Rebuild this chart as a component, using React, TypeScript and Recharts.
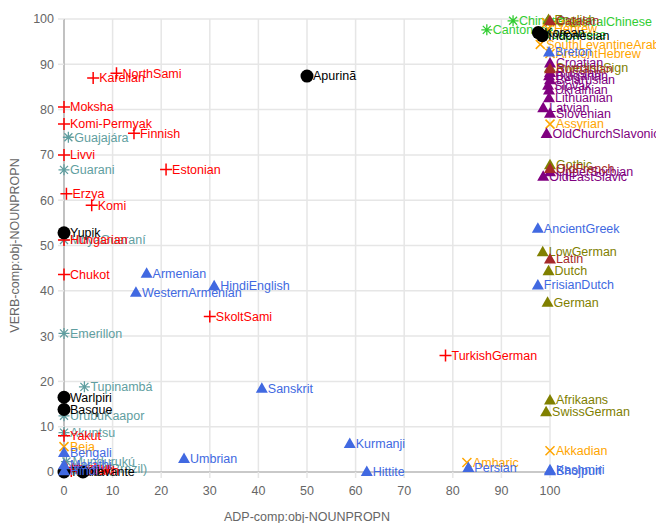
import React from 'react';
import { ScatterChart, Scatter, XAxis, YAxis, CartesianGrid } from 'recharts';

type Lang = [string, number, number];

const axisTicks = [0, 10, 20, 30, 40, 50, 60, 70, 80, 90, 100];

// [language, ADP-comp:obj-NOUNPROPN, VERB-comp:obj-NOUNPROPN]
const tupian: Lang[] = [
  ['Guajajára', 0.9, 73.9],
  ['Guarani', 0, 66.7],
  ['MbyaGuaraní', 0, 51.2],
  ['Emerillon', 0, 30.6],
  ['Tupinambá', 4.2, 18.8],
  ['UrubuKaapor', 0, 12.4],
  ['Akuntsu', 0, 8.7],
  ['Mundurukú', 0.5, 2.3],
  ['Karo(Brazil)', 2.3, 0.7],
];

const sinitic: Lang[] = [
  ['Chinese', 92.4, 99.6],
  ['Cantonese', 87.0, 97.6],
  ['ClassicalChinese', 100, 99.4],
  ['Japanese', 99.2, 96.5],
];

const afroAsiatic: Lang[] = [
  ['Arabic', 99.3, 99.2],
  ['Hebrew', 99.6, 97.8],
  ['SouthLevantineArabic', 98.0, 94.4],
  ['AncientHebrew', 100, 92.4],
  ['Assyrian', 100, 76.8],
  ['Akkadian', 100, 4.7],
  ['Amharic', 82.9, 2.1],
  ['Beja', 0, 5.6],
];

const uralic: Lang[] = [
  ['NorthSami', 10.8, 88.0],
  ['Karelian', 6.0, 87.0],
  ['Moksha', 0, 80.6],
  ['Komi-Permyak', 0, 76.8],
  ['Finnish', 14.4, 74.8],
  ['Livvi', 0, 70.0],
  ['Estonian', 21.0, 66.8],
  ['Erzya', 0.5, 61.4],
  ['Komi', 5.7, 58.9],
  ['Hungarian', 0, 51.2],
  ['Chukot', 0, 43.6],
  ['SkoltSami', 30.0, 34.3],
  ['TurkishGerman', 78.5, 25.7],
  ['Yakut', 0, 8.0],
  ['Uyghur', 0.3, 1.0],
  ['Turkish', 0.6, 0.5],
  ['Kazakh', 1.5, 0.2],
];

const others: Lang[] = [
  ['Apurinã', 50.0, 87.4],
  ['Yupik', 0, 52.8],
  ['Warlpiri', 0, 16.5],
  ['Basque', 0, 13.8],
  ['Korean', 97.6, 97.0],
  ['Indonesian', 98.4, 96.3],
  ['Tamil', 0, 0],
  ['Xavante', 3.9, 0],
];

const germanic: Lang[] = [
  ['English', 99.7, 99.9],
  ['SwedishSign', 100, 89.3],
  ['Gothic', 100, 67.8],
  ['LowGerman', 98.5, 48.6],
  ['Dutch', 99.7, 44.4],
  ['German', 99.5, 37.5],
  ['Afrikaans', 100, 15.9],
  ['SwissGerman', 99.2, 13.3],
];

const baltoSlavic: Lang[] = [
  ['Croatian', 100, 90.3],
  ['Russian', 100, 88.2],
  ['Bulgarian', 99.8, 87.5],
  ['Belarusian', 100, 86.6],
  ['Slovak', 99.6, 85.4],
  ['Ukrainian', 99.8, 84.3],
  ['Lithuanian', 99.8, 82.6],
  ['Latvian', 98.6, 80.4],
  ['Slovenian', 100, 79.2],
  ['OldChurchSlavonic', 99.3, 74.7],
  ['UpperSorbian', 100, 66.3],
  ['OldEastSlavic', 98.6, 65.3],
];

const romance: Lang[] = [
  ['Catalan', 100, 99.6],
  ['Romanian', 100, 89.0],
  ['OldFrench', 100, 67.0],
  ['Latin', 100, 47.0],
];

const otherIndoEuropean: Lang[] = [
  ['Breton', 99.8, 92.7],
  ['AncientGreek', 97.5, 53.8],
  ['FrisianDutch', 97.5, 41.3],
  ['Armenian', 17.0, 43.9],
  ['WesternArmenian', 14.8, 39.7],
  ['HindiEnglish', 30.9, 41.1],
  ['Sanskrit', 40.7, 18.5],
  ['Kurmanji', 58.8, 6.3],
  ['Umbrian', 24.7, 3.0],
  ['Hittite', 62.3, 0.1],
  ['Persian', 83.2, 1.0],
  ['Kashmiri', 100, 0.5],
  ['Bhojpuri', 100, 0.3],
  ['Bengali', 0, 4.3],
  ['Marathi', 0, 1.6],
  ['Hindi', 0, 0.3],
];

const families = [
  { id: 'tupian', color: '#5f9ea0', mark: 'star', langs: tupian },
  { id: 'sinitic', color: '#32cd32', mark: 'star', langs: sinitic },
  { id: 'afroasiatic', color: '#ffa500', mark: 'x', langs: afroAsiatic },
  { id: 'uralic', color: '#ff0000', mark: 'plus', langs: uralic },
  { id: 'others', color: '#000000', mark: 'dot', langs: others },
  { id: 'germanic', color: '#808000', mark: 'tri', langs: germanic },
  { id: 'baltoslavic', color: '#800080', mark: 'tri', langs: baltoSlavic },
  { id: 'romance', color: '#a52a2a', mark: 'tri', langs: romance },
  { id: 'ie', color: '#4169e1', mark: 'tri', langs: otherIndoEuropean },
];

const FONT = '"Liberation Sans", Arial, sans-serif';

function Mark({ cx, cy, payload, color, mark }: any) {
  let glyph;
  if (mark === 'tri') {
    glyph = <polygon points={`${cx},${cy - 6} ${cx - 6},${cy + 4.5} ${cx + 6},${cy + 4.5}`} fill={color} />;
  } else if (mark === 'dot') {
    glyph = <circle cx={cx} cy={cy} r={6.5} fill={color} />;
  } else if (mark === 'plus') {
    glyph = (
      <path d={`M${cx - 6},${cy}H${cx + 6}M${cx},${cy - 6}V${cy + 6}`} stroke={color} strokeWidth={1.5} fill="none" />
    );
  } else if (mark === 'x') {
    glyph = (
      <path
        d={`M${cx - 4.5},${cy - 4.5}L${cx + 4.5},${cy + 4.5}M${cx - 4.5},${cy + 4.5}L${cx + 4.5},${cy - 4.5}`}
        stroke={color}
        strokeWidth={1.5}
        fill="none"
      />
    );
  } else {
    glyph = (
      <path
        d={`M${cx - 5.5},${cy}H${cx + 5.5}M${cx},${cy - 5.5}V${cy + 5.5}M${cx - 4},${cy - 4}L${cx + 4},${cy + 4}M${cx - 4},${cy + 4}L${cx + 4},${cy - 4}`}
        stroke={color}
        strokeWidth={1.3}
        fill="none"
      />
    );
  }
  return (
    <g>
      {glyph}
      <text x={cx + 6} y={cy} dy="0.35em" fill={color} fontSize={12.5} style={{ fontFamily: FONT }}>
        {payload.name}
      </text>
    </g>
  );
}

export default function App() {
  const tickStyle = { fill: '#666', fontSize: 12.5, fontFamily: FONT };
  return (
    <div style={{ position: 'absolute', left: 0, top: 0, fontFamily: FONT }}>
      <ScatterChart width={656} height={523} margin={{ top: 19, right: 106, bottom: 0, left: 0 }}>
        <CartesianGrid stroke="#e6e6e6" strokeWidth={1.5} />
        <XAxis
          type="number"
          dataKey="x"
          domain={[0, 100]}
          ticks={axisTicks}
          height={51}
          tick={tickStyle}
          tickMargin={8}
          axisLine={{ stroke: '#a6a6a6', strokeWidth: 1.2 }}
          tickLine={{ stroke: '#e6e6e6', strokeWidth: 1.5 }}
          label={{
            value: 'ADP-comp:obj-NOUNPROPN',
            position: 'insideBottom',
            offset: 2,
            style: { fill: '#666', fontSize: 12.5, fontFamily: FONT },
          }}
        />
        <YAxis
          type="number"
          dataKey="y"
          domain={[0, 100]}
          ticks={axisTicks}
          width={64}
          tick={tickStyle}
          tickMargin={4}
          axisLine={{ stroke: '#a6a6a6', strokeWidth: 1.2 }}
          tickLine={{ stroke: '#e6e6e6', strokeWidth: 1.5 }}
          label={{
            value: 'VERB-comp:obj-NOUNPROPN',
            angle: -90,
            position: 'insideLeft',
            offset: 15,
            style: { textAnchor: 'middle', fill: '#666', fontSize: 12.5, fontFamily: FONT },
          }}
        />
        {families.map((f) => (
          <Scatter
            key={f.id}
            data={f.langs.map(([name, x, y]) => ({ name, x, y }))}
            isAnimationActive={false}
            shape={(p: any) => <Mark {...p} color={f.color} mark={f.mark} />}
          />
        ))}
      </ScatterChart>
    </div>
  );
}
